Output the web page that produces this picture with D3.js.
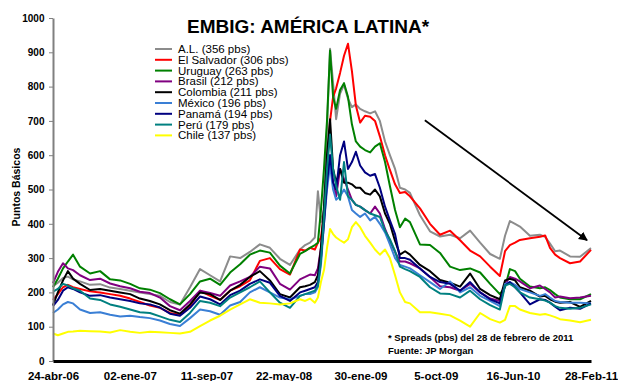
<!DOCTYPE html>
<html>
<head>
<meta charset="utf-8">
<script src="https://cdn.jsdelivr.net/npm/d3@7"></script>
<style>
  body { margin: 0; background: #fff; }
  svg { display: block; font-family: Arial, "Liberation Sans", sans-serif; }
</style>
</head>
<body>
<svg id="chart" width="618" height="381"></svg>
<script>
// Observation dates shared by every series
const dates = [
  "2006-04-24","2006-05-10","2006-05-27","2006-06-12","2006-06-29",
  "2006-07-22","2006-08-24","2006-09-26","2006-10-29","2006-12-01",
  "2007-01-03","2007-02-04","2007-03-09","2007-04-11","2007-05-14",
  "2007-06-16","2007-07-19","2007-08-21","2007-09-23","2007-10-26",
  "2007-11-28","2007-12-31","2008-02-01","2008-03-05","2008-04-07",
  "2008-05-10","2008-06-12","2008-07-15","2008-08-01","2008-08-17",
  "2008-09-02","2008-09-12","2008-09-22","2008-10-02","2008-10-12",
  "2008-10-22","2008-11-01","2008-11-11","2008-11-24","2008-12-07",
  "2008-12-20","2009-01-02","2009-01-15","2009-01-29","2009-02-14",
  "2009-03-03","2009-03-19","2009-04-04","2009-04-21","2009-05-07",
  "2009-05-24","2009-06-09","2009-06-26","2009-07-12","2009-08-14",
  "2009-09-16","2009-10-19","2009-11-21","2009-12-24","2010-01-26",
  "2010-02-28","2010-04-02","2010-05-04","2010-05-21","2010-06-06",
  "2010-06-23","2010-07-09","2010-08-11","2010-09-13","2010-09-30",
  "2010-10-16","2010-11-02","2010-11-18","2010-12-21","2011-01-23",
  "2011-02-28"
];

// EMBIG spreads (pbs)
const americaLatina = [
  218,228,242,246,238, 232,222,224,214,210, 205,200,195,190,172,
  165,215,268,250,232, 305,300,318,340,330, 298,280,325,338,345,
  360,495,405,440,680, 910,810,705,780,805, 765,740,748,735,728,
  722,728,700,640,600, 560,505,500,490,425, 378,363,368,358,380,
  345,312,298,365,408, 400,392,365,368,362, 342,320,322,305,304,
  329
];
const elSalvador = [
  178,195,215,222,215, 210,203,200,195,190, 182,172,162,155,140,
  135,160,205,190,178, 205,218,235,292,300, 268,252,325,322,330,
  325,345,360,430,560, 700,770,795,840,890, 925,845,745,695,715,
  712,700,655,600,557, 515,490,493,480,445, 400,368,380,352,322,
  305,275,248,320,338, 345,353,358,362,366, 330,310,300,285,290,
  324
];
const uruguay = [
  215,240,270,290,310, 275,255,262,238,235, 225,212,208,198,180,
  165,195,232,240,222, 258,282,310,322,316, 278,255,312,320,330,
  338,345,440,560,700, 905,770,735,790,810, 770,690,640,625,615,
  608,625,635,580,510, 440,390,415,405,340, 338,315,275,265,270,
  258,225,195,215,268, 262,240,217,212,215, 207,195,185,180,180,
  195
];
const brasil = [
  227,260,285,270,265, 250,236,240,226,218, 212,202,198,185,160,
  148,175,205,198,190, 220,232,245,275,270, 225,208,238,245,252,
  250,270,330,420,520, 600,520,480,560,530, 500,470,455,450,440,
  430,450,430,385,350, 318,290,290,285,270, 245,218,215,205,225,
  200,182,175,225,245, 240,232,212,220,210, 200,185,188,183,185,
  190
];
const colombia = [
  163,200,235,262,240, 225,207,210,205,200, 195,182,175,165,148,
  138,165,200,195,178, 205,222,245,262,235, 195,185,215,218,222,
  230,250,330,450,600, 705,560,520,560,520, 520,515,505,505,490,
  485,500,480,430,400, 350,310,320,310,280, 262,236,228,217,255,
  210,192,180,235,240, 235,215,205,188,190, 180,173,170,172,158,
  175
];
const mexico = [
  140,150,165,172,168, 150,140,142,135,130, 132,128,125,118,108,
  102,125,150,145,135, 162,172,200,215,200, 185,180,190,195,195,
  200,215,280,400,500, 570,500,470,480,500, 480,440,430,420,430,
  410,420,400,375,340, 300,280,275,270,250, 230,210,232,200,215,
  190,175,160,225,230, 222,210,200,190,195, 185,175,172,170,170,
  168
];
const panama = [
  160,178,205,215,210, 200,190,192,185,180, 175,168,165,156,138,
  132,155,188,180,165, 192,205,225,238,228, 190,175,200,205,210,
  215,230,300,400,520, 600,520,500,600,640, 560,580,610,570,550,
  540,545,505,450,410, 370,300,300,295,270, 245,230,225,205,230,
  200,180,168,220,230, 215,200,165,180,178, 170,158,148,155,152,
  168
];
const peru = [
  202,210,225,220,212, 205,182,178,165,158, 150,142,140,130,120,
  114,140,175,170,160, 185,200,215,232,200, 170,155,190,195,200,
  205,220,290,420,560, 660,560,510,470,580, 480,470,455,450,440,
  430,425,420,380,355, 320,275,268,262,245, 215,197,195,185,205,
  180,163,150,220,225, 215,200,185,180,176, 170,160,155,152,155,
  165
];
const chile = [
  80,75,80,85,86, 88,87,86,83,90, 85,82,85,84,82,
  80,85,102,118,132, 150,165,180,170,168, 165,168,180,175,182,
  170,185,230,265,330, 385,370,360,352,345, 355,390,405,390,365,
  345,325,310,325,300, 250,200,172,168,142, 142,138,133,118,100,
  140,122,112,120,160, 160,150,140,135,137, 133,128,122,118,113,
  120
];

// Legend names and the spreads quoted for 28 Feb 2011
const seriesNames = ["A.L.", "El Salvador", "Uruguay", "Brasil", "Colombia", "México", "Panamá", "Perú", "Chile"];
const quotedSpreads = [356, 306, 263, 212, 211, 196, 194, 179, 137];
const seriesValues = [americaLatina, elSalvador, uruguay, brasil, colombia, mexico, panama, peru, chile];
const seriesColors = ["#8c8c8c", "#ff0000", "#008000", "#800080", "#000000", "#3a7fd5", "#000080", "#008080", "#ffff00"];

// Axis ticks
const yTicks = [0, 100, 200, 300, 400, 500, 600, 700, 800, 900, 1000];
const xTickDates = ["2006-04-24","2007-01-02","2007-09-11","2008-05-22","2009-01-30","2009-10-05","2010-06-16","2011-02-28"];
const xTickLabels = ["24-abr-06","02-ene-07","11-sep-07","22-may-08","30-ene-09","5-oct-09","16-Jun-10","28-Feb-11"];

// Trend arrow, in data coordinates
const trendArrow = [["2009-08-30", 702], ["2011-02-15", 352]];

const parse = d3.utcParse("%Y-%m-%d");
const svg = d3.select("#chart");

const x = d3.scaleUtc()
  .domain([parse("2006-04-24"), parse("2011-02-28")])
  .range([53, 591]);
const y = d3.scaleLinear().domain([0, 1000]).range([361, 18]);

// Title
svg.append("text")
  .attr("x", 308).attr("y", 33)
  .attr("text-anchor", "middle")
  .attr("font-size", 19).attr("font-weight", "bold")
  .text("EMBIG: AMÉRICA LATINA*");

// Series lines
const line = d3.line()
  .x(d => x(d.date))
  .y(d => y(d.v));

seriesValues.forEach((vals, i) => {
  const pts = vals.map((v, j) => ({ date: parse(dates[j]), v }));
  svg.append("path")
    .datum(pts)
    .attr("fill", "none")
    .attr("stroke", seriesColors[i])
    .attr("stroke-width", 2)
    .attr("stroke-linejoin", "round")
    .attr("d", line);
});

// Y axis
const yAxis = svg.append("g")
  .attr("transform", "translate(53,0)")
  .call(d3.axisLeft(y).tickValues(yTicks).tickSize(4).tickSizeOuter(0).tickFormat(d3.format("d")));
yAxis.select(".domain").attr("stroke", "#808080").attr("stroke-width", 2);
yAxis.selectAll(".tick line").attr("stroke", "#808080").attr("stroke-width", 1);
yAxis.selectAll(".tick text")
  .attr("x", -8.5)
  .attr("font-size", 10).attr("font-weight", "bold")
  .attr("font-family", "Arial, 'Liberation Sans', sans-serif")
  .attr("fill", "#000");

// X axis
const xAxis = svg.append("g")
  .attr("transform", "translate(0,361)")
  .call(d3.axisBottom(x)
    .tickValues(xTickDates.map(parse))
    .tickFormat((d, i) => xTickLabels[i])
    .tickSize(0).tickSizeOuter(0));
xAxis.select(".domain").attr("stroke", "#000").attr("stroke-width", 3);
xAxis.selectAll(".tick text")
  .attr("y", 11)
  .attr("font-size", 11.5).attr("font-weight", "bold")
  .attr("font-family", "Arial, 'Liberation Sans', sans-serif")
  .attr("fill", "#000");

// Y axis title
svg.append("text")
  .attr("transform", "translate(20,187) rotate(-90)")
  .attr("text-anchor", "middle")
  .attr("font-size", 10.5).attr("font-weight", "bold")
  .text("Puntos Básicos");

// Legend
const legend = svg.append("g").attr("transform", "translate(155,49)");
seriesNames.forEach((name, i) => {
  const row = legend.append("g").attr("transform", `translate(0,${i * 10.8})`);
  row.append("line")
    .attr("x1", 0).attr("x2", 17).attr("y1", 0).attr("y2", 0)
    .attr("stroke", seriesColors[i]).attr("stroke-width", 2);
  row.append("text")
    .attr("x", 23).attr("y", 4)
    .attr("font-size", 11.5)
    .text(`${name} (${quotedSpreads[i]} pbs)`);
});

// Trend arrow
svg.append("defs").append("marker")
  .attr("id", "arrowhead")
  .attr("viewBox", "0 0 10 10")
  .attr("refX", 9).attr("refY", 5)
  .attr("markerWidth", 5).attr("markerHeight", 5)
  .attr("orient", "auto")
  .append("path").attr("d", "M0,0L10,5L0,10z").attr("fill", "#000");
svg.append("line")
  .attr("x1", x(parse(trendArrow[0][0]))).attr("y1", y(trendArrow[0][1]))
  .attr("x2", x(parse(trendArrow[1][0]))).attr("y2", y(trendArrow[1][1]))
  .attr("stroke", "#000").attr("stroke-width", 1.8)
  .attr("marker-end", "url(#arrowhead)");

// Notes
svg.append("text")
  .attr("x", 388).attr("y", 341)
  .attr("font-size", 9.5).attr("font-weight", "bold")
  .text("* Spreads (pbs) del 28 de febrero de 2011");
svg.append("text")
  .attr("x", 388).attr("y", 354)
  .attr("font-size", 9.5).attr("font-weight", "bold")
  .text("Fuente: JP Morgan");
</script>
</body>
</html>
